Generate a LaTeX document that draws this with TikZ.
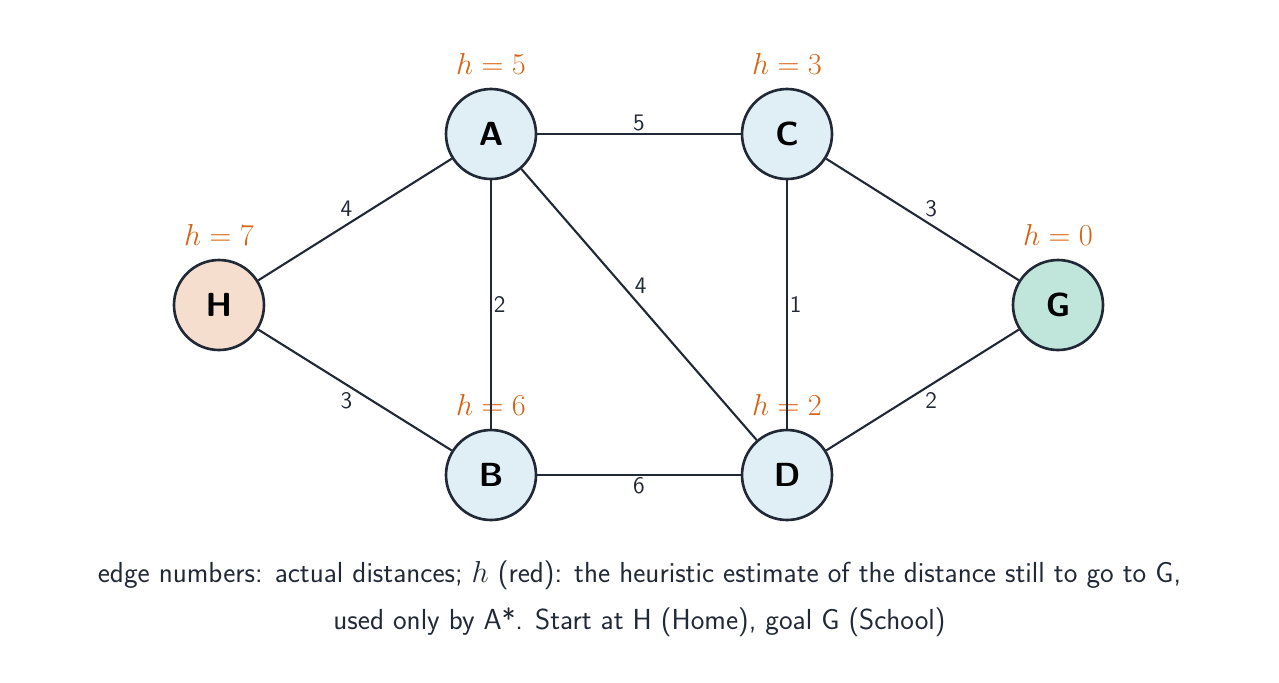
\documentclass[tikz,border=0pt]{standalone}
\usepackage{amsmath}
\definecolor{edgeNavy}{RGB}{33,41,54}
\definecolor{nodeBlue}{RGB}{224,238,245}
\definecolor{homePeach}{RGB}{245,222,205}
\definecolor{goalMint}{RGB}{192,230,220}
\definecolor{hOrange}{RGB}{214,100,20}
\tikzset{
  place/.style={circle,draw=edgeNavy,line width=1.5pt,fill=nodeBlue,minimum size=1.8cm,font=\sffamily\bfseries\fontsize{19}{22}\selectfont},
  road/.style={draw=edgeNavy,line width=1.2pt},
  dist/.style={font=\sffamily\fontsize{13.5}{16}\selectfont,text=edgeNavy,inner sep=2pt},
  heur/.style={text=hOrange,font=\fontsize{16}{19}\selectfont}
}
\begin{document}
\begin{tikzpicture}
\useasboundingbox (0,0) rectangle (25.58,-13.64);
\node[place,fill=homePeach] (home) at (4.38,-6.10) {H};
\node[place] (a) at (9.82,-2.68) {A};
\node[place] (c) at (15.74,-2.68) {C};
\node[place,fill=goalMint] (goal) at (21.16,-6.10) {G};
\node[place] (b) at (9.82,-9.50) {B};
\node[place] (d) at (15.74,-9.50) {D};

\node[heur] (hh) at (4.38,-4.70) {$h=7$};
\node[heur] (ha) at (9.82,-1.28) {$h=5$};
\node[heur] (hc) at (15.74,-1.28) {$h=3$};
\node[heur] (hg) at (21.16,-4.70) {$h=0$};
\node[heur] (hb) at (9.82,-8.10) {$h=6$};
\node[heur] (hd) at (15.74,-8.10) {$h=2$};

\draw[road] (home) -- node[dist,above left=-1pt] {4} (a);
\draw[road] (home) -- node[dist,below left=-1pt] {3} (b);
\draw[road] (a) -- node[dist,above=-1pt] {5} (c);
\draw[road] (a) -- node[dist,right=-1pt] {2} (b);
\draw[road] (a) -- node[dist,above right=-1pt,pos=0.47] {4} (d);
\draw[road] (c) -- node[dist,right=-1pt] {1} (d);
\draw[road] (b) -- node[dist,below=-1pt] {6} (d);
\draw[road] (c) -- node[dist,above right=-1pt] {3} (goal);
\draw[road] (d) -- node[dist,below right=-1pt] {2} (goal);

\node[font=\sffamily\fontsize{16.5}{27}\selectfont,text=edgeNavy,align=center] (caption) at (12.79,-11.97)
  {edge numbers: actual distances; $h$ (red): the heuristic estimate of the distance still to go to G,\\
   used only by A*. Start at H (Home), goal G (School)};
\end{tikzpicture}
\end{document}
